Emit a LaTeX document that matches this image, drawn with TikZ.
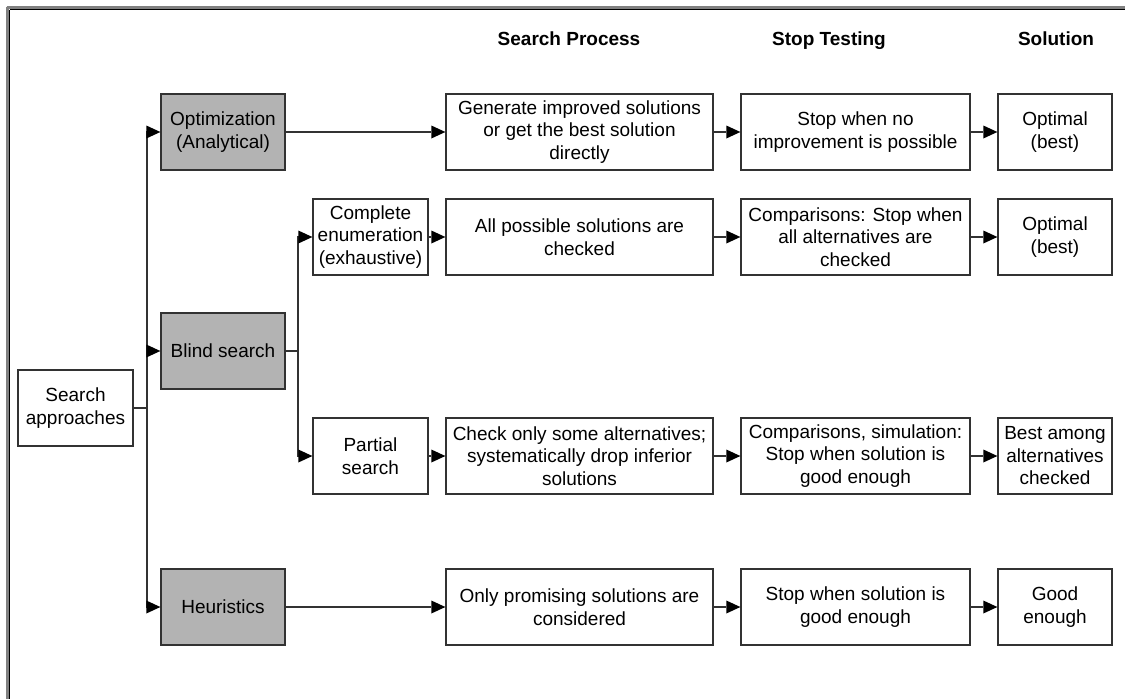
\documentclass[tikz,border=0pt]{standalone}
\usepackage{fontspec}
\setmainfont{Liberation Sans}
\usetikzlibrary{arrows.meta}
\definecolor{catgray}{RGB}{179,179,179}
\definecolor{linegray}{RGB}{50,50,50}
\tikzset{
  box/.style={draw=linegray, line width=1.3pt, fill=white, align=center, inner sep=0pt,
    minimum height=76pt, font=\fontsize{19}{22.5}\selectfont},
  catbox/.style={box, fill=catgray, minimum width=124pt},
  subbox/.style={box, minimum width=115pt},
  procbox/.style={box, minimum width=267pt},
  stopbox/.style={box, minimum width=229pt},
  solbox/.style={box, minimum width=114pt},
  head/.style={font=\fontsize{19}{22.5}\selectfont\bfseries, inner sep=0pt, anchor=base},
  link/.style={draw=linegray, line width=1.3pt,
    -{Triangle[length=14pt,width=13pt,fill=black,line width=0pt]}},
  plain/.style={draw=linegray, line width=1.3pt}
}
\begin{document}
\begin{tikzpicture}[x=1pt,y=-1pt]
\useasboundingbox (0,0) rectangle (1125,699);
% frame (top and left edges)
\draw[gray, line width=3pt] (6.5,7) -- (1125,7);
\draw[gray, line width=3pt] (7,6.5) -- (7,699);
\draw[black, line width=1.2pt] (9.5,9.5) -- (1125,9.5);
\draw[black, line width=1.2pt] (9.5,9.5) -- (9.5,699);

% column headings
\node[head] (h1) at (569,45) {Search Process};
\node[head] (h2) at (829,45) {Stop Testing};
\node[head] (h3) at (1056,45) {Solution};

% root and categories
\node[subbox] (sa) at (75.5,408) {Search\\approaches};
\node[catbox] (opt) at (223,132) {Optimization\\(Analytical)};
\node[catbox] (blind) at (223,351) {Blind search};
\node[catbox] (heur) at (223,607) {Heuristics};

% blind search variants
\node[subbox] (comp) at (370.5,237) {Complete\\enumeration\\(exhaustive)};
\node[subbox] (part) at (370.5,456) {Partial\\search};

% search process
\node[procbox] (p1) at (579.5,132) {Generate improved solutions\\or get the best solution\\directly};
\node[procbox] (p2) at (579.5,237) {All possible solutions are\\checked};
\node[procbox] (p3) at (579.5,456) {Check only some alternatives;\\systematically drop inferior\\solutions};
\node[procbox] (p4) at (579.5,607) {Only promising solutions are\\considered};

% stop testing
\node[stopbox] (s1) at (855.5,132) {Stop when no\\improvement is possible};
\node[stopbox] (s2) at (855.5,237) {Comparisons: Stop when\\all alternatives are\\checked};
\node[stopbox] (s3) at (855.5,456) {Comparisons, simulation:\\Stop when solution is\\good enough};
\node[stopbox] (s4) at (855.5,607) {Stop when solution is\\good enough};

% solution
\node[solbox] (o1) at (1055,132) {Optimal\\(best)};
\node[solbox] (o2) at (1055,237) {Optimal\\(best)};
\node[solbox] (o3) at (1055,456) {Best among\\alternatives\\checked};
\node[solbox] (o4) at (1055,607) {Good\\enough};

% branching from the root
\coordinate (trunk) at (147,408);
\draw[plain] (sa.east) -- (trunk);
\draw[link] (trunk) |- (opt.west);
\draw[link] (trunk) |- (blind.west);
\draw[link] (trunk) |- (heur.west);

% branching from blind search
\coordinate (fork) at (298,351);
\draw[plain] (blind.east) -- (fork);
\draw[link] (fork) |- (comp.west);
\draw[link] (fork) |- (part.west);

% rows
\draw[link] (opt.east) -- (p1.west);
\draw[link] (comp.east) -- (p2.west);
\draw[link] (part.east) -- (p3.west);
\draw[link] (heur.east) -- (p4.west);
\foreach \r in {1,2,3,4} {
  \draw[link] (p\r.east) -- (s\r.west);
  \draw[link] (s\r.east) -- (o\r.west);
}
\end{tikzpicture}
\end{document}
